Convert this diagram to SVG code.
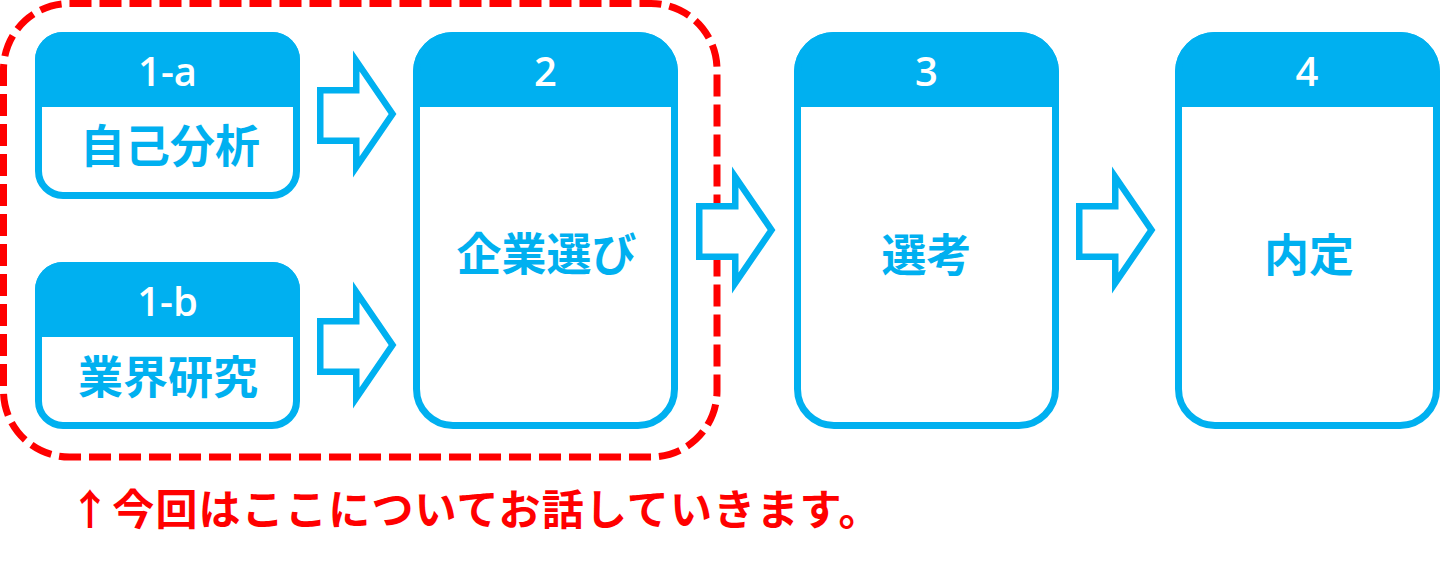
<svg xmlns="http://www.w3.org/2000/svg" width="1440" height="566" viewBox="0 0 1440 566">
  <style>
    .hdr { fill: #00B0F0; }
    .frame { fill: none; stroke: #00B0F0; stroke-width: 7; }
    .num { font-family: "Open Sans", "Noto Sans", sans-serif; font-weight: 600; font-size: 40px; fill: #FFFFFF; text-anchor: middle; }
    .lbl { font-family: "Noto Sans CJK JP", sans-serif; font-weight: 700; font-size: 45px; fill: #00B0F0; text-anchor: middle; }
    .arrow { fill: #FFFFFF; stroke: #00B0F0; stroke-width: 6.5; stroke-linejoin: miter; }
    .group { fill: none; stroke: #FF0000; stroke-width: 7; stroke-dasharray: 22 8; }
    .note { font-family: "Noto Sans CJK JP", sans-serif; font-weight: 700; font-size: 42px; letter-spacing: 1.2px; fill: #FF0000; }
  </style>
  <defs>
    <polygon id="arr" points="3.25,35.25 39.25,35.25 39.25,6 75.5,59 39.25,112 39.25,85.75 3.25,85.75"/>
  </defs>
  <rect width="1440" height="566" fill="#FFFFFF"/>

  <g id="group-outline">
    <rect class="group" x="3.5" y="3.5" width="713.5" height="453.5" rx="66" ry="66"/>
  </g>

  <g id="node-1a">
    <path class="hdr" d="M35,107 V60 A28,28 0 0 1 63,32 H272 A28,28 0 0 1 300,60 V107 Z"/>
    <rect class="frame" x="38.5" y="35.5" width="258" height="160" rx="24.5" ry="24.5"/>
    <text class="num" x="167.5" y="86">1-a</text>
    <text class="lbl" x="170" y="163">自己分析</text>
  </g>

  <g id="node-1b">
    <path class="hdr" d="M35,337 V290 A28,28 0 0 1 63,262 H272 A28,28 0 0 1 300,290 V337 Z"/>
    <rect class="frame" x="38.5" y="265.5" width="258" height="160" rx="24.5" ry="24.5"/>
    <text class="num" x="167.5" y="316">1-b</text>
    <text class="lbl" x="168" y="394">業界研究</text>
  </g>

  <g id="node-2">
    <path class="hdr" d="M413,107 V72 A40,40 0 0 1 453,32 H638 A40,40 0 0 1 678,72 V107 Z"/>
    <rect class="frame" x="416.5" y="35.5" width="258" height="390" rx="36.5" ry="36.5"/>
    <text class="num" x="545.5" y="86">2</text>
    <text class="lbl" x="546.5" y="271">企業選び</text>
  </g>

  <g id="node-3">
    <path class="hdr" d="M794,107 V72 A40,40 0 0 1 834,32 H1019 A40,40 0 0 1 1059,72 V107 Z"/>
    <rect class="frame" x="797.5" y="35.5" width="258" height="390" rx="36.5" ry="36.5"/>
    <text class="num" x="926.5" y="86">3</text>
    <text class="lbl" x="926.5" y="272">選考</text>
  </g>

  <g id="node-4">
    <path class="hdr" d="M1175,107 V72 A40,40 0 0 1 1215,32 H1400 A40,40 0 0 1 1440,72 V107 Z"/>
    <rect class="frame" x="1178.5" y="35.5" width="258" height="390" rx="36.5" ry="36.5"/>
    <text class="num" x="1307" y="86">4</text>
    <text class="lbl" x="1309" y="272">内定</text>
  </g>

  <g id="connectors">
    <use href="#arr" class="arrow" x="317" y="55"/>
    <use href="#arr" class="arrow" x="317" y="286"/>
    <use href="#arr" class="arrow" x="696" y="171"/>
    <use href="#arr" class="arrow" x="1076" y="171"/>
  </g>

  <g id="note">
    <text class="note" x="69" y="525">↑今回はここについてお話していきます。</text>
  </g>
</svg>
